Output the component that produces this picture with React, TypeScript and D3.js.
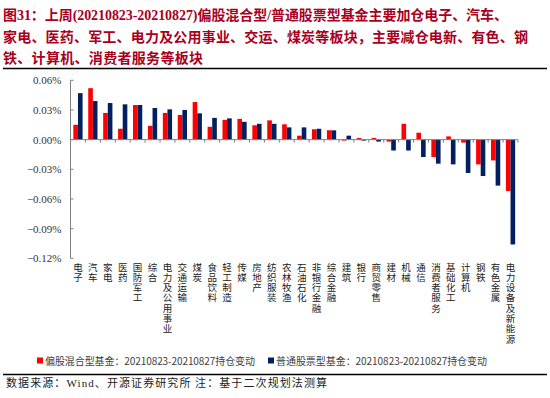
import React, { useEffect, useRef } from 'react';
import * as d3 from 'd3';

const categories = [
  '电子', '汽车', '家电', '医药', '国防军工', '综合', '电力及公用事业', '交通运输', '煤炭', '食品饮料',
  '轻工制造', '传媒', '房地产', '纺织服装', '农林牧渔', '石油石化', '非银行金融', '综合金融', '建筑', '银行',
  '商贸零售', '建材', '机械', '通信', '消费者服务', '基础化工', '计算机', '钢铁', '有色金属', '电力设备及新能源',
];

// 偏股混合型基金 (%)
const mixedFund = [
  0.015, 0.052, 0.027, 0.011, 0.035, 0.014, 0.027, 0.025, 0.038, 0.013,
  0.020, 0.021, 0.0145, 0.0195, 0.0155, 0.004, 0.0105, 0.0095, -0.001, 0.0017,
  0.0017, -0.002, 0.016, 0.007, -0.0176, 0.0033, -0.003, -0.025, -0.021, -0.052,
];

// 普通股票型基金 (%)
const stockFund = [
  0.047, 0.039, 0.037, 0.0357, 0.035, 0.032, 0.0306, 0.030, 0.0266, 0.022,
  0.0215, 0.018, 0.016, 0.016, 0.0124, 0.0124, 0.011, 0.0094, 0.004, -0.001,
  -0.002, -0.011, -0.011, -0.0176, -0.0243, -0.025, -0.0337, -0.0368, -0.0465, -0.106,
];

const yTicks = [0.06, 0.03, 0, -0.03, -0.06, -0.09, -0.12];
const seriesNames = ['偏股混合型基金：20210823-20210827持仓变动', '普通股票型基金：20210823-20210827持仓变动'];
const colors = ['#ff0000', '#002060'];

const cjk = '"Noto Sans CJK SC", sans-serif';
const serif = '"Liberation Serif", "Times New Roman", serif';

const App = () => {
  const chartRef = useRef(null);

  useEffect(() => {
    const svg = d3.select(chartRef.current).select('g.plot');
    svg.selectAll('*').remove();

    const x = d3.scaleBand().domain(categories).range([70.5, 518]).paddingInner(0.38).paddingOuter(0.19);
    const x1 = d3.scaleBand().domain(['a', 'b']).range([0, x.bandwidth()]);
    const y = d3.scaleLinear().domain([-0.12, 0.06]).range([258.3, 80.3]);

    const rows = categories.map((c, i) => ({ c, a: mixedFund[i], b: stockFund[i] }));

    ['a', 'b'].forEach((key, k) => {
      svg
        .append('g')
        .selectAll('rect')
        .data(rows)
        .enter()
        .append('rect')
        .attr('x', (d) => x(d.c) + x1(key))
        .attr('y', (d) => y(Math.max(0, d[key])))
        .attr('width', x1.bandwidth())
        .attr('height', (d) => Math.abs(y(d[key]) - y(0)))
        .attr('fill', colors[k]);
    });

    // y axis
    const yAxis = svg.append('g').attr('transform', 'translate(70.5,0)');
    yAxis.append('line').attr('y1', y(0.06)).attr('y2', y(-0.12)).attr('stroke', '#808080');
    yAxis
      .selectAll('line.t')
      .data(yTicks)
      .enter()
      .append('line')
      .attr('class', 't')
      .attr('x1', 0)
      .attr('x2', 3)
      .attr('y1', (d) => y(d))
      .attr('y2', (d) => y(d))
      .attr('stroke', '#808080');
    yAxis
      .selectAll('text')
      .data(yTicks)
      .enter()
      .append('text')
      .attr('x', -9)
      .attr('y', (d) => y(d) + 4)
      .attr('text-anchor', 'end')
      .attr('font-family', serif)
      .attr('font-size', 11)
      .attr('fill', '#333')
      .text((d) => d3.format('.2f')(d) + '%');

    // x axis at zero
    const x0 = y(0);
    svg.append('line').attr('x1', 70.5).attr('x2', 518).attr('y1', x0).attr('y2', x0).attr('stroke', '#808080');
    const edges = categories.map((c) => x(c) - (x.step() * x.paddingInner()) / 2).concat([518]);
    svg
      .selectAll('line.xt')
      .data(edges.slice(1))
      .enter()
      .append('line')
      .attr('class', 'xt')
      .attr('x1', (d) => d)
      .attr('x2', (d) => d)
      .attr('y1', x0)
      .attr('y2', x0 + 3)
      .attr('stroke', '#808080');

    // vertical stacked category labels, one char per line
    const lab = svg.append('g').attr('font-family', cjk).attr('font-size', 9.5).attr('fill', '#222');
    categories.forEach((c) => {
      Array.from(c).forEach((ch, j) => {
        lab
          .append('text')
          .attr('x', x(c) + x.bandwidth() / 2)
          .attr('y', 270.5 + j * 10.3)
          .attr('text-anchor', 'middle')
          .text(ch);
      });
    });
  }, []);

  return (
    <svg ref={chartRef} width={550} height={398} style={{ position: 'absolute', left: 0, top: 0, background: '#fff' }}>
      <g fill="#a8001e" fontFamily={cjk} fontWeight="bold" fontSize={14}>
        <text x={3} y={19.5} textLength={505} lengthAdjust="spacing">
          图<tspan fontFamily={serif}>31</tspan>：上周<tspan fontFamily={serif}>(20210823-20210827)</tspan>偏股混合型
          <tspan fontFamily={serif}>/</tspan>普通股票型基金主要加仓电子、汽车、
        </text>
        <text x={3} y={41.5} textLength={525} lengthAdjust="spacing">
          家电、医药、军工、电力及公用事业、交运、煤炭等板块，主要减仓电新、有色、钢
        </text>
        <text x={3} y={62.5} textLength={200} lengthAdjust="spacing">
          铁、计算机、消费者服务等板块
        </text>
      </g>
      <line x1={3} x2={547} y1={68.5} y2={68.5} stroke="#000" strokeWidth={1.5} />
      <g className="plot" />
      <g fontFamily={cjk} fontSize={10} fill="#404040">
        <rect x={37} y={357.5} width={6} height={6} fill={colors[0]} />
        <text x={45} y={364.5} textLength={210} lengthAdjust="spacing">{seriesNames[0]}</text>
        <rect x={268} y={357.5} width={6} height={6} fill={colors[1]} />
        <text x={276} y={364.5} textLength={211} lengthAdjust="spacing">{seriesNames[1]}</text>
      </g>
      <line x1={3} x2={547} y1={374.5} y2={374.5} stroke="#000" strokeWidth={1.5} />
      <text x={6} y={387} fontFamily={cjk} fontSize={11} fill="#222" textLength={321} lengthAdjust="spacing">
        数据来源：<tspan fontFamily={serif}>Wind</tspan>、开源证券研究所 注：基于二次规划法测算
      </text>
    </svg>
  );
};

export default App;
